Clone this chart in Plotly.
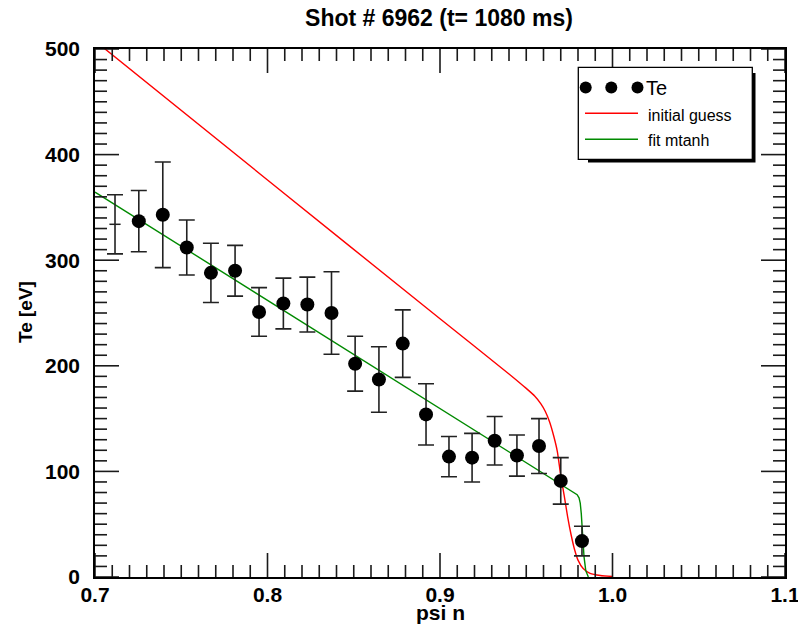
import plotly.graph_objects as go

# Thomson scattering Te profile, shot 6962 at t = 1080 ms
psi_n = [0.7116, 0.7254, 0.7393, 0.7532, 0.7672, 0.7812, 0.7951, 0.8092,
         0.8231, 0.8371, 0.8508, 0.8646, 0.8784, 0.8919, 0.9052, 0.9186,
         0.9317, 0.9446, 0.9574, 0.9700, 0.9823]
te = [334, 337, 343, 312, 288, 290, 251, 259, 258, 250, 202, 187, 221,
      154, 114, 113, 129, 115, 124, 91, 34]
te_err = [28, 29, 50, 26, 28, 24, 23, 24, 26, 39, 26, 31, 32, 29, 19,
          23, 23, 19.5, 26, 22, 14]

# Initial guess profile
guess_psi = [0.70, 0.80, 0.90, 0.94, 0.950, 0.955, 0.9585, 0.961, 0.9635,
             0.966, 0.968, 0.970, 0.972, 0.974, 0.976, 0.978, 0.980, 0.983,
             0.987, 0.993, 1.0]
guess_te = [507.7, 376, 244.5, 192.3, 178.6, 171.2, 164, 157, 147, 133,
            119, 96, 77, 57, 40, 26, 16, 8, 3.5, 1.4, 0.5]

# mtanh fit
fit_psi = [0.70, 0.80, 0.90, 0.96, 0.97, 0.975, 0.978, 0.9795, 0.9806,
           0.9813, 0.9819, 0.9826, 0.9835, 0.9845, 0.986]
fit_te = [364.5, 262, 159.5, 98, 87.8, 83, 80, 78, 75, 70, 60, 41, 19, 6, 0]

x_range = [0.7, 1.1000001]
y_range = [0, 500]

W, H = 798, 624
L, R, T, B = 95, 13, 49, 47
PW, PH = W - L - R, H - T - B
MAJOR_LEN, MINOR_LEN = 24, 12


def px(xp):
    return (xp - L) / PW


def py(yp):
    return (H - B - yp) / PH


fig = go.Figure()

fig.add_trace(go.Scatter(
    x=guess_psi, y=guess_te, mode="lines",
    line=dict(color="#ff0000", width=1.4, shape="spline", smoothing=0.6),
    showlegend=False,
))
fig.add_trace(go.Scatter(
    x=fit_psi, y=fit_te, mode="lines",
    line=dict(color="#008a00", width=1.4), showlegend=False,
))

# first channel has only a dash for its marker
fig.add_trace(go.Scatter(
    x=psi_n[:1], y=te[:1], mode="markers",
    marker=dict(symbol="line-ew", size=8, line=dict(color="#222", width=1.5)),
    error_y=dict(type="data", array=te_err[:1], color="#222", thickness=1.6, width=8),
    showlegend=False,
))
fig.add_trace(go.Scatter(
    x=psi_n[1:], y=te[1:], mode="markers",
    marker=dict(symbol="circle", size=14, color="black"),
    error_y=dict(type="data", array=te_err[1:], color="#222", thickness=1.6, width=8),
    showlegend=False,
))

tick_font = dict(family="Liberation Sans", size=21, color="black", weight="bold")
base = dict(showgrid=False, zeroline=False, automargin=False, showline=True,
            linecolor="black", linewidth=1.5, mirror=True, ticks="")

fig.update_layout(
    xaxis=dict(range=x_range, tickfont=tick_font, tickmode="linear", tick0=0.7,
               dtick=0.1, tickformat=".1f", ticklabelstandoff=-2,
               ticklabeloverflow="allow", **base),
    yaxis=dict(range=y_range, tickfont=tick_font, tickmode="linear", tick0=0,
               dtick=100, ticklabelstandoff=9, **base),
)

shapes = []

# Tick marks pointing inward from all four frame edges
tick_line = dict(color="#1a1a1a", width=1.6)
for i in range(41):                      # every 0.01 in psi_n
    v = 0.7 + i * 0.01
    n = MAJOR_LEN if i % 10 == 0 else MINOR_LEN
    for anchor, sign in ((0, 1), (1, -1)):
        shapes.append(dict(type="line", xref="x", yref="paper", x0=v, x1=v,
                           ysizemode="pixel", yanchor=anchor, y0=0, y1=sign * n,
                           line=tick_line, layer="above"))
for i in range(51):                      # every 10 eV
    v = i * 10
    n = MAJOR_LEN if i % 10 == 0 else MINOR_LEN
    for anchor, sign in ((0.7, 1), (1.1, -1)):
        shapes.append(dict(type="line", xref="x", yref="y", y0=v, y1=v,
                           xsizemode="pixel", xanchor=anchor, x0=0, x1=sign * n,
                           line=tick_line, layer="above"))

# Legend box with drop shadow
shapes += [
    dict(type="rect", xref="paper", yref="paper",
         x0=px(588), x1=px(755.5), y0=py(162.5), y1=py(73),
         fillcolor="black", line=dict(width=0)),
    dict(type="rect", xref="paper", yref="paper",
         x0=px(578.3), x1=px(752.3), y0=py(159.3), y1=py(67.3),
         fillcolor="white", line=dict(color="black", width=1.3)),
    dict(type="line", xref="paper", yref="paper",
         x0=px(585), x1=px(638), y0=py(113.3), y1=py(113.3),
         line=dict(color="#ff0000", width=1.4)),
    dict(type="line", xref="paper", yref="paper",
         x0=px(585), x1=px(638), y0=py(139.3), y1=py(139.3),
         line=dict(color="#008a00", width=1.4)),
]
for cx in (585.7, 611.3, 637.5):
    r = 6
    shapes.append(dict(type="circle", xref="paper", yref="paper",
                       x0=px(cx - r), x1=px(cx + r), y0=py(87.5 + r), y1=py(87.5 - r),
                       fillcolor="black", line=dict(width=0)))

legend_font = dict(family="Liberation Sans", size=16, color="black")
title_font = dict(family="Liberation Sans", size=21, color="black", weight="bold")
annotations = [
    dict(text="Te", xref="paper", yref="paper", x=px(644), y=py(88),
         xanchor="left", yanchor="middle", showarrow=False,
         font=dict(family="Liberation Sans", size=20, color="black")),
    dict(text="initial guess", xref="paper", yref="paper", x=px(646), y=py(115),
         xanchor="left", yanchor="middle", showarrow=False, font=legend_font),
    dict(text="fit mtanh", xref="paper", yref="paper", x=px(646), y=py(140),
         xanchor="left", yanchor="middle", showarrow=False, font=legend_font),
    # axis titles
    dict(text="psi n", xref="paper", yref="paper", x=px(440), y=py(612),
         xanchor="center", yanchor="middle", showarrow=False, font=title_font),
    dict(text="Te [eV]", xref="paper", yref="paper", x=px(25), y=py(312),
         xanchor="center", yanchor="middle", showarrow=False, textangle=-90,
         font=dict(family="Liberation Sans", size=19, color="black", weight="bold")),
]

fig.update_layout(
    width=W, height=H,
    margin=dict(l=L, r=R, t=T, b=B),
    paper_bgcolor="white", plot_bgcolor="white",
    title=dict(text="Shot # 6962 (t= 1080 ms)", x=439 / W,
               xanchor="center", y=1 - 18 / H, yanchor="middle", yref="container",
               font=dict(family="Liberation Sans", size=23, color="black", weight="bold")),
    shapes=shapes, annotations=annotations, showlegend=False,
)

fig.write_html("out.html")
